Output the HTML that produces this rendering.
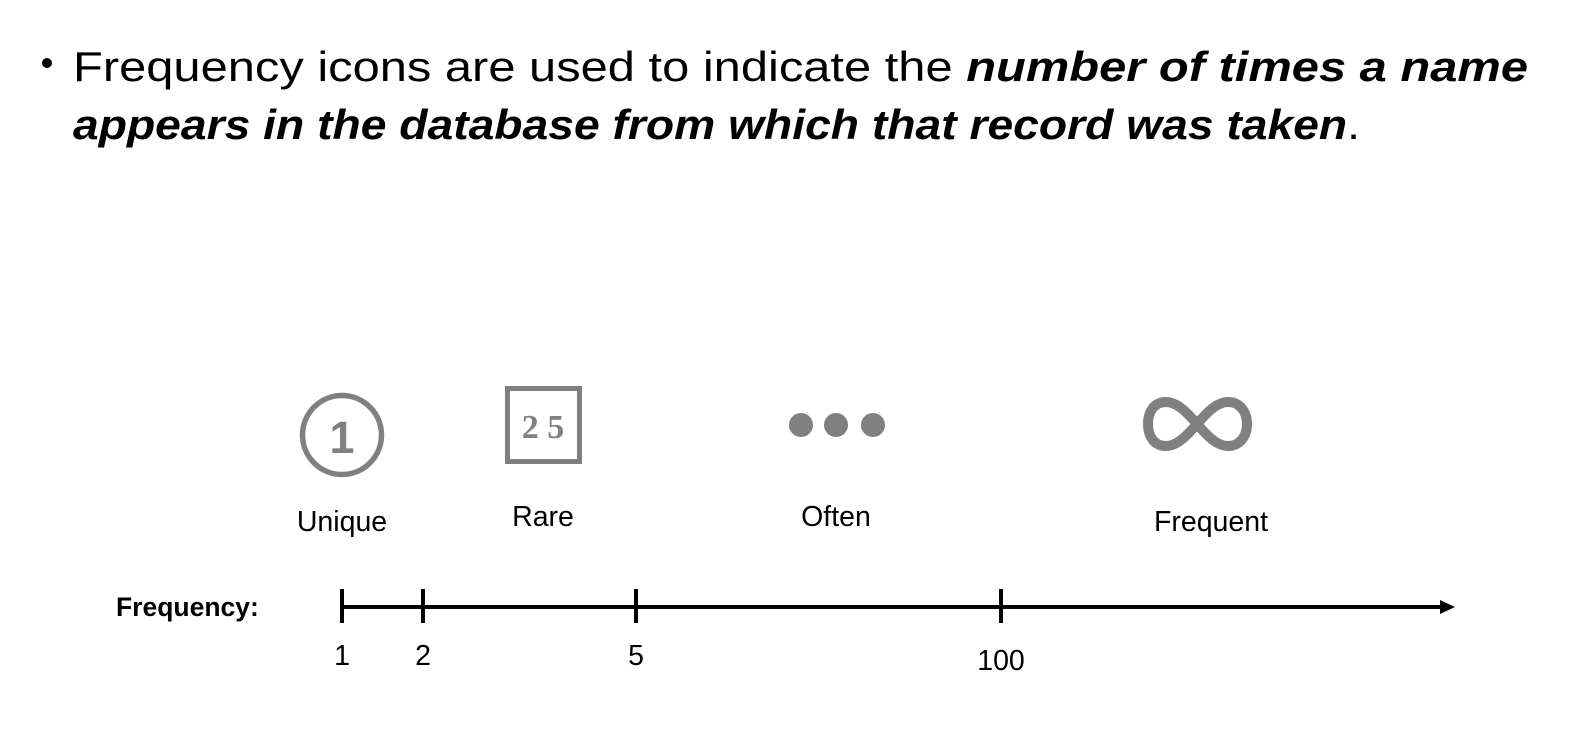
<!DOCTYPE html>
<html><head><meta charset="utf-8"><style>
html,body{margin:0;padding:0;background:#fff;}
svg{display:block;font-family:"Liberation Sans",sans-serif;}
</style></head><body>
<svg width="1591" height="732" viewBox="0 0 1591 732">
  <g>
    <circle cx="47" cy="63" r="5" fill="#000"/>
    <text x="73" y="81" font-size="42" fill="#000" textLength="1455" lengthAdjust="spacingAndGlyphs">Frequency icons are used to indicate the <tspan font-weight="bold" font-style="italic">number of times a name</tspan></text>
    <text x="73" y="139" font-size="42" fill="#000" textLength="1287" lengthAdjust="spacingAndGlyphs"><tspan font-weight="bold" font-style="italic">appears in the database from which that record was taken</tspan>.</text>
  </g>
  <g>
    <circle cx="342" cy="435" r="39.5" fill="none" stroke="#808080" stroke-width="5.5"/>
    <text x="342" y="453" font-size="45" font-weight="bold" fill="#808080" text-anchor="middle">1</text>
  </g>
  <g>
    <rect x="507.5" y="388.5" width="72" height="73" fill="none" stroke="#808080" stroke-width="5"/>
    <text x="543" y="438" font-size="34" font-weight="bold" fill="#808080" text-anchor="middle" font-family="Liberation Serif,serif">2 5</text>
  </g>
  <g fill="#808080">
    <circle cx="801" cy="425" r="12"/><circle cx="836" cy="425" r="12"/><circle cx="873" cy="425" r="12"/>
  </g>
  <g>
    <path d="M1197 424 C1185 410 1176 402 1166 402 C1154 402 1148 412 1148 424 C1148 436 1154 446 1166 446 C1176 446 1185 438 1197 424 C1209 410 1218 402 1228 402 C1240 402 1247 412 1247 424 C1247 436 1240 446 1228 446 C1218 446 1209 438 1197 424 Z" fill="none" stroke="#808080" stroke-width="10"/>
  </g>
  <g font-size="28.5" fill="#000" text-anchor="middle">
    <text x="342" y="531">Unique</text>
    <text x="543" y="526">Rare</text>
    <text x="836" y="526">Often</text>
    <text x="1211" y="531">Frequent</text>
  </g>
  <text x="116" y="616" font-size="26.5" font-weight="bold" fill="#000">Frequency:</text>
  <g id="axis"></g>
</svg>
<script>
const tickValues = [1, 2, 5, 100];
const tickLabels = ["1", "2", "5", "100"];
const scaleDomain = [1, 2, 5, 100];
const scaleRange = [342, 423, 636, 1001];
function xScale(v){
  for(let i=0;i<scaleDomain.length-1;i++){
    if(v<=scaleDomain[i+1]){const t=(v-scaleDomain[i])/(scaleDomain[i+1]-scaleDomain[i]);return scaleRange[i]+t*(scaleRange[i+1]-scaleRange[i]);}
  }
  return scaleRange[scaleRange.length-1];
}
const NS="http://www.w3.org/2000/svg";
const g=document.getElementById('axis');
const line=document.createElementNS(NS,'line');
line.setAttribute('x1',xScale(tickValues[0]));line.setAttribute('x2',1442);
line.setAttribute('y1',607);line.setAttribute('y2',607);
line.setAttribute('stroke','#000');line.setAttribute('stroke-width','4');


g.appendChild(line);
const arrow=document.createElementNS(NS,'path');
arrow.setAttribute('d','M1440 600 L1455 607 L1440 614 Z');
arrow.setAttribute('fill','#000');


g.appendChild(arrow);
tickValues.forEach((v,i)=>{
  const x=xScale(v);
  const t=document.createElementNS(NS,'line');
  t.setAttribute('x1',x);t.setAttribute('x2',x);t.setAttribute('y1',589);t.setAttribute('y2',623);
  t.setAttribute('stroke','#000');t.setAttribute('stroke-width','4');
  
  
  g.appendChild(t);
  const lb=document.createElementNS(NS,'text');
  lb.setAttribute('x',x);lb.setAttribute('y',v>=100?670:665);
  lb.setAttribute('font-size','28.5');lb.setAttribute('text-anchor','middle');
  lb.textContent=tickLabels[i];
  
  
  g.appendChild(lb);
});
</script>
</body></html>
